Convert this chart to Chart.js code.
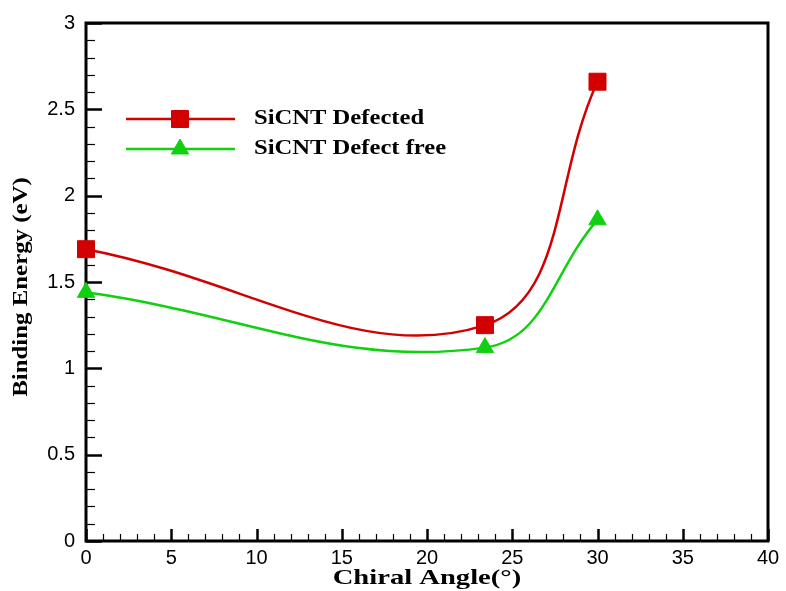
<!DOCTYPE html>
<html>
<head>
<meta charset="utf-8">
<script src="https://cdn.jsdelivr.net/npm/chart.js@4/dist/chart.umd.min.js"></script>
<style>
  html, body { margin: 0; padding: 0; background: #fff; }
  #wrap { width: 786px; height: 591px; }
</style>
</head>
<body>
<div id="wrap"><canvas id="energyChart" width="786" height="591"></canvas></div>
<script>
const chiralAngles = [0, 23.4, 30];
const defected = [1.69, 1.25, 2.66];
const defectFree = [1.44, 1.12, 1.86];
const seriesLabels = ["SiCNT Defected", "SiCNT Defect free"];
const xTitle = "Chiral Angle(\u00b0)";
const yTitle = "Binding Energy (eV)";

const RED = "#d20000";
const GREEN = "#10d010";

// stretched text, the original has wide bold serif glyphs
function wideText(ctx, text, x, y, sx, rot) {
    ctx.save();
    ctx.translate(x, y);
    if (rot) ctx.rotate(rot);
    ctx.scale(sx, 1);
    ctx.fillText(text, 0, 0);
    ctx.restore();
}

const framePlugin = {
    id: "frame",
    beforeDatasetsDraw(chart) {
        const ctx = chart.ctx;
        const a = chart.chartArea;
        const xs = chart.scales.x;
        const ys = chart.scales.y;
        ctx.save();
        ctx.strokeStyle = "#000";
        // inward ticks on the bottom axis
        for (let v = xs.min; v <= xs.max + 1e-9; v += 1) {
            const px = Math.round(xs.getPixelForValue(v)) + 0.5;
            const major = Math.abs(v % 5) < 1e-9;
            ctx.lineWidth = major ? 2.5 : 1.2;
            ctx.beginPath();
            ctx.moveTo(px, a.bottom);
            ctx.lineTo(px, a.bottom - (major ? 12 : 7));
            ctx.stroke();
        }
        // inward ticks on the left axis
        for (let i = 0; i <= 30; i++) {
            const v = i / 10;
            const py = Math.round(ys.getPixelForValue(v)) + 0.5;
            const major = i % 5 === 0;
            ctx.lineWidth = major ? 2.5 : 1.2;
            ctx.beginPath();
            ctx.moveTo(a.left, py);
            ctx.lineTo(a.left + (major ? 16 : 9), py);
            ctx.stroke();
        }
        // box
        ctx.lineWidth = 3;
        ctx.beginPath();
        ctx.moveTo(a.left, a.top);
        ctx.lineTo(a.right, a.top);
        ctx.lineTo(a.right, a.bottom);
        ctx.lineTo(a.left, a.bottom);
        ctx.closePath();
        ctx.stroke();
        ctx.restore();
    },
    afterDraw(chart) {
        const ctx = chart.ctx;
        ctx.save();
        ctx.fillStyle = "#000";
        ctx.textAlign = "center";
        ctx.textBaseline = "middle";
        ctx.font = "bold 22px 'Liberation Serif', 'Times New Roman', serif";
        wideText(ctx, xTitle, 427, 578, 1.3, 0);
        wideText(ctx, yTitle, 21, 287, 1.13, -Math.PI / 2);

        // legend inside the plot
        const rows = [119, 149];
        chart.data.datasets.forEach((ds, i) => {
            const y = rows[i];
            ctx.strokeStyle = ds.borderColor;
            ctx.lineWidth = 2.5;
            ctx.beginPath();
            ctx.moveTo(126, y);
            ctx.lineTo(235, y);
            ctx.stroke();
            ctx.fillStyle = ds.pointBackgroundColor;
            ctx.strokeStyle = ds.pointBorderColor;
            ctx.lineWidth = 1;
            Chart.helpers.drawPoint(ctx, { pointStyle: ds.pointStyle, radius: ds.pointRadius, rotation: 0, borderWidth: 1 }, 180, y);
            ctx.fillStyle = "#000";
            ctx.textAlign = "left";
            ctx.font = "bold 20px 'Liberation Serif', 'Times New Roman', serif";
            wideText(ctx, ds.label, 254, y, 1.23, 0);
        });
        ctx.restore();
    }
};

const tickFont = { family: "'Liberation Sans', Arial, sans-serif", size: 20 };

const ctx = document.getElementById("energyChart").getContext("2d");
const chart = new Chart(ctx, {
    type: "line",
    data: {
        datasets: [
            {
                label: seriesLabels[0],
                data: chiralAngles.map((x, i) => ({ x: x, y: defected[i] })),
                borderColor: RED,
                borderWidth: 2.5,
                pointStyle: "rect",
                pointRadius: 12,
                pointBackgroundColor: RED,
                pointBorderColor: RED,
                pointBorderWidth: 1,
                tension: 0.4,
                fill: false,
                clip: false,
            },
            {
                label: seriesLabels[1],
                data: chiralAngles.map((x, i) => ({ x: x, y: defectFree[i] })),
                borderColor: GREEN,
                borderWidth: 2.5,
                pointStyle: "triangle",
                pointRadius: 10,
                pointBackgroundColor: GREEN,
                pointBorderColor: GREEN,
                pointBorderWidth: 1,
                tension: 0.4,
                fill: false,
                clip: false,
            },
        ],
    },
    options: {
        responsive: false,
        animation: false,
        layout: { padding: { left: 0, right: 18, top: 22, bottom: 0 } },
        plugins: {
            legend: { display: false },
            tooltip: { enabled: false },
        },
        scales: {
            x: {
                type: "linear",
                min: 0,
                max: 40,
                afterFit: (s) => { s.height = 50; },
                ticks: {
                    stepSize: 5,
                    color: "#000",
                    padding: 5,
                    maxRotation: 0,
                    font: tickFont,
                },
                grid: { display: false, drawTicks: false },
                border: { display: false },
            },
            y: {
                min: 0,
                max: 3,
                afterFit: (s) => { s.width = 86; },
                ticks: {
                    stepSize: 0.5,
                    color: "#000",
                    padding: 11,
                    font: tickFont,
                    callback: (v) => String(Math.round(v * 10) / 10),
                },
                grid: { display: false, drawTicks: false },
                border: { display: false },
            },
        },
    },
    plugins: [framePlugin],
});
</script>
</body>
</html>
